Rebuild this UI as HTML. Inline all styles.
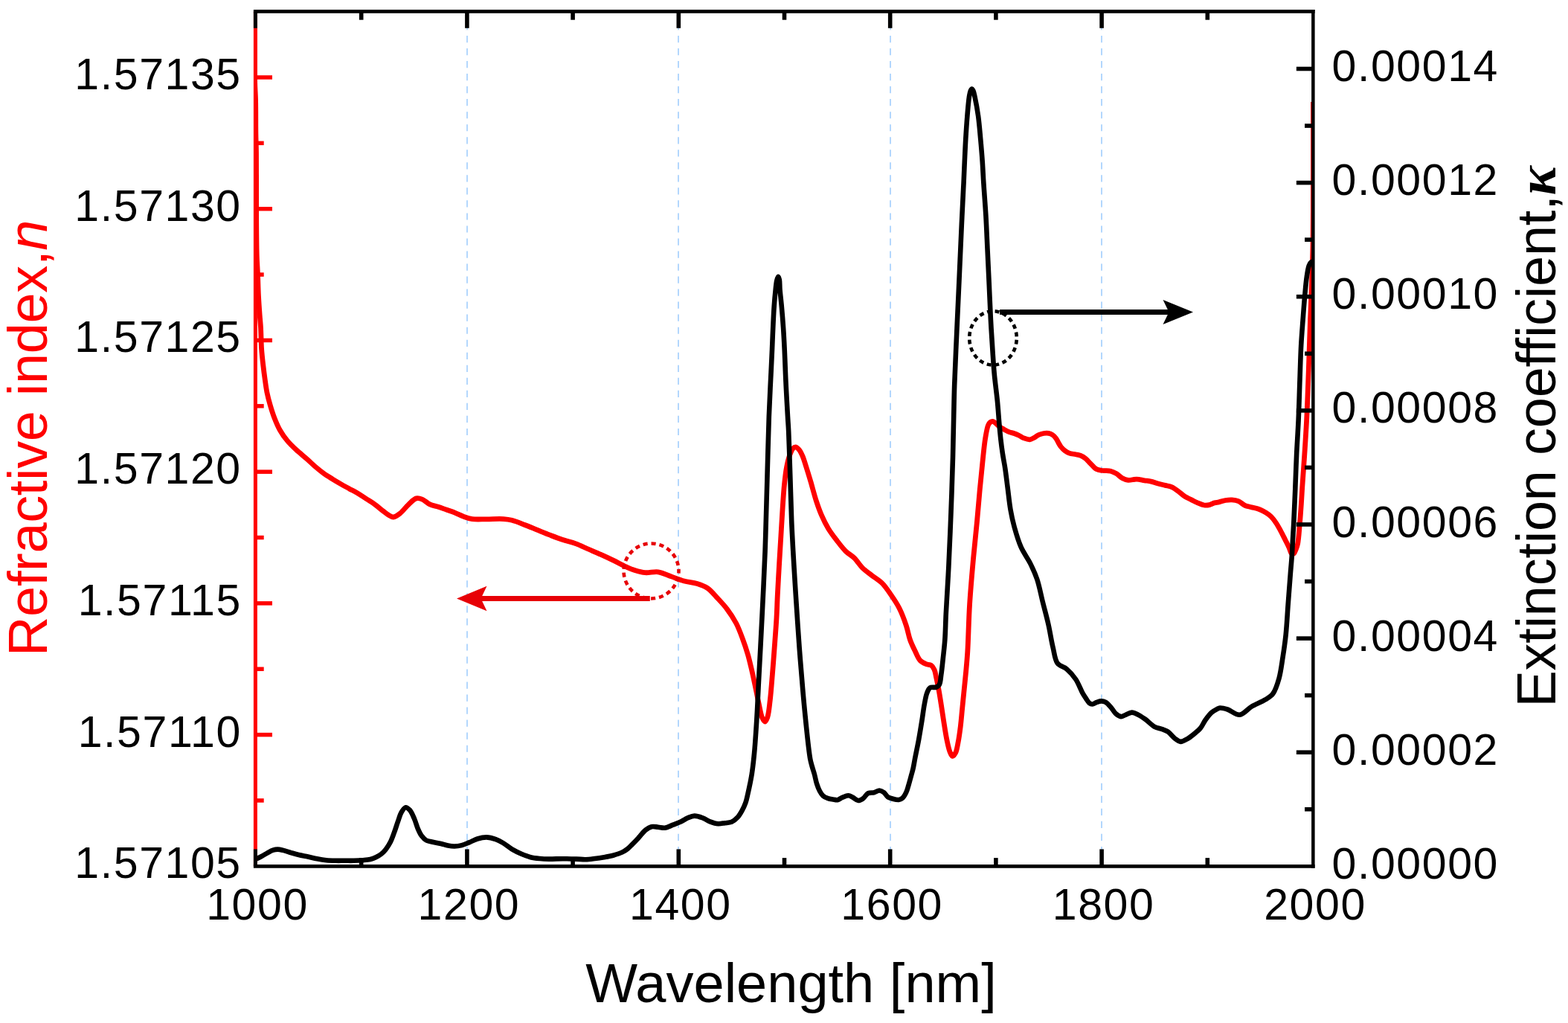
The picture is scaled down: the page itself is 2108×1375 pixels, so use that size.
<!DOCTYPE html><html><head><meta charset="utf-8"><title>Refractive index and extinction coefficient</title>
<style>html,body{margin:0;padding:0;background:#fff;}svg{display:block;}text{font-family:"Liberation Sans",Arial,sans-serif;}</style></head><body>
<svg width="2108" height="1375" viewBox="0 0 2108 1375">
<rect width="2108" height="1375" fill="#fff"/>
<g stroke="#b3d7fd" stroke-width="2" stroke-dasharray="9.2 7.83"><line x1="628.0" y1="13.90" x2="628.0" y2="1162.4"/><line x1="912.0" y1="13.90" x2="912.0" y2="1162.4"/><line x1="1197.0" y1="13.90" x2="1197.0" y2="1162.4"/><line x1="1481.0" y1="13.90" x2="1481.0" y2="1162.4"/></g>
<defs><clipPath id="pa"><rect x="343.5" y="15.4" width="1422.0" height="1149.0"/></clipPath></defs>
<g clip-path="url(#pa)">
<path d="M342.50,15.00 C342.53,46.67 342.16,88.53 342.60,110.00 C342.83,121.02 343.38,125.45 343.60,135.00 C343.90,147.81 343.70,167.19 343.90,180.00 C344.05,189.55 344.36,193.98 344.50,205.00 C344.78,226.47 344.50,274.18 344.70,300.00 C344.84,317.77 344.91,332.66 345.30,345.00 C345.57,353.63 346.06,359.04 346.40,367.00 C346.80,376.45 347.00,388.12 347.50,398.00 C347.96,407.05 348.64,416.38 349.20,424.00 C349.64,429.98 350.14,433.87 350.50,440.00 C350.99,448.24 350.98,460.01 351.60,469.00 C352.14,476.85 353.02,484.10 353.80,491.00 C354.50,497.14 355.17,502.49 356.00,508.40 C356.86,514.58 357.66,521.16 358.90,527.30 C360.11,533.25 361.61,538.92 363.30,544.70 C365.01,550.56 366.88,556.56 369.10,562.20 C371.26,567.71 373.50,573.12 376.40,578.20 C379.30,583.29 382.81,588.25 386.50,592.70 C390.09,597.03 394.00,600.68 398.20,604.60 C402.69,608.79 408.18,613.00 412.70,617.00 C416.79,620.61 420.33,624.20 424.20,627.50 C427.93,630.68 431.65,633.75 435.50,636.50 C439.22,639.16 443.08,641.44 446.90,643.80 C450.68,646.14 454.48,648.41 458.30,650.60 C462.08,652.77 465.90,654.81 469.70,656.90 C473.50,658.98 477.34,660.86 481.10,663.10 C484.94,665.39 488.70,668.03 492.50,670.50 C496.30,672.97 500.18,675.20 503.90,677.90 C507.75,680.69 511.88,684.45 515.20,687.00 C517.73,688.95 519.65,690.65 522.00,692.00 C524.22,693.28 526.47,695.12 528.90,695.00 C531.76,694.86 534.97,692.25 538.00,689.90 C541.81,686.94 545.58,681.38 549.40,677.90 C552.78,674.82 556.21,670.79 559.60,669.90 C562.28,669.19 564.88,670.06 567.60,671.10 C570.96,672.39 574.25,676.19 577.90,677.90 C581.46,679.57 585.44,680.08 589.20,681.30 C593.01,682.54 596.80,683.97 600.60,685.30 C604.40,686.63 608.23,687.80 612.00,689.30 C615.83,690.83 619.55,693.01 623.40,694.40 C627.15,695.76 630.45,696.98 634.80,697.60 C640.37,698.40 647.48,697.79 654.20,697.80 C661.47,697.81 670.64,697.16 676.90,697.60 C681.36,697.91 684.17,698.26 688.30,699.30 C693.48,700.61 699.72,703.32 705.40,705.50 C711.12,707.69 716.81,710.11 722.50,712.40 C728.17,714.68 733.81,717.01 739.50,719.20 C745.18,721.38 750.87,723.59 756.60,725.50 C762.27,727.39 768.06,728.55 773.70,730.60 C779.46,732.70 785.10,735.53 790.80,738.00 C796.50,740.47 802.22,742.84 807.90,745.40 C813.62,747.97 819.33,750.65 825.00,753.40 C830.69,756.15 836.86,759.58 842.00,761.90 C846.14,763.77 849.34,765.23 853.40,766.50 C857.80,767.88 862.52,769.27 867.50,769.70 C872.96,770.17 879.17,767.98 884.90,768.80 C890.81,769.64 896.58,772.86 902.40,774.90 C908.21,776.93 913.93,779.39 919.80,781.00 C925.57,782.58 931.88,782.80 937.30,784.50 C942.32,786.07 947.04,787.70 951.30,790.60 C955.83,793.68 959.37,798.40 963.50,802.80 C968.06,807.66 973.11,812.90 977.40,818.60 C981.87,824.53 986.20,831.10 989.70,837.80 C993.19,844.47 995.77,851.68 998.40,858.70 C1001.00,865.64 1003.36,872.67 1005.40,879.70 C1007.42,886.64 1008.91,893.34 1010.60,900.60 C1012.42,908.43 1014.24,917.25 1015.90,925.10 C1017.43,932.34 1018.70,939.26 1020.20,946.00 C1021.61,952.37 1022.74,960.26 1024.60,964.50 C1025.70,967.00 1027.11,970.04 1028.30,970.00 C1029.52,969.96 1030.82,966.77 1031.80,964.00 C1033.59,958.92 1034.27,949.54 1035.30,941.00 C1036.58,930.36 1037.51,916.92 1038.50,905.00 C1039.48,893.25 1040.31,882.06 1041.20,870.00 C1042.15,857.11 1043.30,842.38 1044.00,830.00 C1044.61,819.29 1044.77,810.84 1045.30,800.00 C1045.93,787.17 1046.81,771.65 1047.60,758.00 C1048.35,745.02 1049.13,732.69 1049.90,720.00 C1050.67,707.26 1051.39,693.75 1052.20,681.70 C1052.93,670.93 1053.53,660.55 1054.50,651.10 C1055.34,642.90 1056.21,635.03 1057.50,628.20 C1058.57,622.55 1059.72,617.38 1061.30,612.90 C1062.62,609.17 1064.13,604.96 1065.90,603.00 C1066.98,601.80 1068.16,600.84 1069.40,600.90 C1070.92,600.97 1072.85,602.84 1074.30,604.50 C1076.12,606.58 1077.47,609.64 1078.90,612.90 C1080.71,617.03 1082.12,622.27 1083.80,627.50 C1085.74,633.52 1087.72,640.02 1089.80,647.00 C1092.20,655.06 1094.70,665.17 1097.30,673.10 C1099.53,679.90 1101.52,685.65 1104.20,691.80 C1106.94,698.09 1110.06,704.53 1113.60,710.40 C1117.07,716.15 1121.24,721.54 1125.20,726.70 C1128.98,731.62 1132.71,736.69 1136.80,740.70 C1140.51,744.34 1144.78,746.37 1148.50,750.00 C1152.59,753.99 1156.01,759.91 1160.10,763.90 C1163.82,767.53 1167.71,770.03 1171.80,773.20 C1176.21,776.62 1181.51,779.55 1185.70,783.70 C1190.09,788.05 1193.64,793.48 1197.40,798.90 C1201.42,804.70 1205.60,810.79 1209.00,817.50 C1212.64,824.68 1215.81,833.34 1218.30,840.80 C1220.52,847.44 1221.39,854.06 1223.50,860.00 C1225.42,865.41 1227.87,870.35 1230.20,875.10 C1232.35,879.51 1234.06,884.61 1236.90,887.60 C1239.25,890.07 1242.50,891.47 1245.20,892.60 C1247.48,893.55 1250.09,893.07 1251.90,894.30 C1253.74,895.55 1255.02,897.78 1256.10,900.10 C1257.40,902.90 1257.74,906.40 1258.60,910.20 C1259.70,915.06 1260.93,921.06 1262.00,926.90 C1263.17,933.28 1264.22,940.17 1265.30,947.00 C1266.42,954.09 1267.40,961.21 1268.60,968.70 C1269.89,976.77 1271.23,986.31 1272.80,993.80 C1274.09,999.96 1275.35,1006.43 1277.00,1010.50 C1278.04,1013.06 1279.09,1016.24 1280.40,1016.40 C1281.62,1016.55 1283.38,1014.20 1284.50,1012.20 C1286.22,1009.14 1286.88,1003.83 1287.90,998.80 C1289.18,992.46 1290.26,984.61 1291.20,977.10 C1292.21,969.05 1292.87,960.37 1293.70,952.00 C1294.53,943.63 1295.37,935.27 1296.20,926.90 C1297.03,918.53 1297.94,910.23 1298.70,901.80 C1299.47,893.26 1300.14,886.52 1300.80,876.00 C1301.84,859.46 1302.28,833.22 1303.60,812.10 C1304.90,791.29 1306.85,769.66 1308.60,750.20 C1310.17,732.80 1312.02,716.61 1313.50,700.80 C1314.86,686.21 1315.93,672.29 1317.20,658.70 C1318.40,645.94 1319.62,633.51 1320.90,621.60 C1322.09,610.51 1323.09,598.63 1324.60,589.50 C1325.74,582.61 1326.86,575.25 1328.50,571.50 C1329.34,569.57 1330.17,568.37 1331.30,567.50 C1332.26,566.76 1333.48,566.17 1334.60,566.30 C1335.91,566.45 1337.26,567.86 1338.60,568.90 C1340.15,570.10 1341.53,571.87 1343.30,573.20 C1345.25,574.66 1347.67,575.96 1349.90,577.20 C1352.10,578.42 1354.33,579.71 1356.60,580.60 C1358.77,581.45 1361.02,581.74 1363.20,582.50 C1365.42,583.27 1367.62,584.16 1369.80,585.20 C1372.06,586.28 1374.10,587.97 1376.50,588.90 C1378.99,589.86 1382.00,591.03 1384.50,590.80 C1386.84,590.59 1389.06,588.99 1391.10,587.90 C1393.01,586.88 1394.46,585.39 1396.40,584.50 C1398.44,583.56 1400.85,582.85 1403.10,582.50 C1405.29,582.16 1407.65,582.03 1409.70,582.40 C1411.60,582.75 1413.39,583.44 1415.00,584.50 C1416.74,585.65 1418.37,587.43 1419.70,589.20 C1421.05,590.99 1421.87,593.28 1423.00,595.20 C1424.08,597.04 1424.96,598.81 1426.30,600.50 C1427.77,602.36 1429.67,604.35 1431.60,605.80 C1433.45,607.19 1435.35,608.28 1437.60,609.10 C1440.15,610.03 1443.52,610.21 1446.20,610.80 C1448.58,611.32 1450.74,611.51 1452.90,612.40 C1455.18,613.34 1457.40,614.74 1459.50,616.40 C1461.82,618.23 1463.78,620.82 1466.10,623.10 C1468.60,625.55 1471.07,629.05 1474.00,630.60 C1476.65,632.01 1479.65,632.07 1482.70,632.50 C1486.02,632.97 1490.02,632.41 1493.20,633.20 C1496.06,633.91 1498.48,635.19 1501.00,636.70 C1503.72,638.33 1506.15,641.33 1508.90,642.80 C1511.40,644.13 1513.82,645.10 1516.70,645.40 C1520.11,645.76 1524.38,644.01 1528.10,644.10 C1531.68,644.18 1535.26,645.28 1538.60,645.80 C1541.63,646.27 1544.42,646.44 1547.30,647.10 C1550.23,647.77 1552.95,648.95 1556.00,649.80 C1559.32,650.73 1563.17,651.57 1566.50,652.40 C1569.54,653.16 1572.39,653.39 1575.20,654.60 C1578.23,655.91 1581.13,658.14 1584.00,660.20 C1586.97,662.33 1589.69,665.26 1592.70,667.20 C1595.51,669.01 1598.50,670.15 1601.40,671.60 C1604.30,673.05 1607.15,674.66 1610.10,675.90 C1612.99,677.12 1616.10,678.60 1618.90,679.00 C1621.33,679.34 1623.61,679.10 1625.90,678.60 C1628.25,678.09 1630.56,676.52 1632.80,675.90 C1634.81,675.34 1636.55,675.37 1638.70,674.90 C1641.35,674.31 1644.55,673.00 1647.50,672.50 C1650.38,672.01 1653.31,671.72 1656.20,671.90 C1659.11,672.08 1662.11,672.46 1664.90,673.60 C1667.93,674.83 1670.58,677.94 1673.60,679.30 C1676.43,680.57 1679.34,680.87 1682.40,681.70 C1685.72,682.60 1689.54,683.26 1692.80,684.50 C1695.92,685.69 1698.90,687.24 1701.60,688.90 C1704.14,690.46 1706.41,691.97 1708.60,694.10 C1711.08,696.50 1713.37,699.68 1715.50,702.80 C1717.72,706.06 1719.61,709.64 1721.60,713.30 C1723.71,717.19 1725.83,721.58 1727.80,725.50 C1729.62,729.13 1731.48,732.70 1733.00,736.00 C1734.33,738.88 1734.98,743.27 1736.50,744.20 C1737.38,744.74 1738.66,744.56 1739.50,744.00 C1740.64,743.24 1741.22,740.89 1742.00,739.00 C1742.95,736.68 1743.86,734.48 1744.60,731.00 C1745.90,724.86 1746.51,713.83 1747.30,705.00 C1748.12,695.85 1748.82,685.55 1749.40,677.00 C1749.89,669.78 1750.08,665.03 1750.60,657.00 C1751.39,644.81 1752.80,626.34 1753.80,611.00 C1754.80,595.67 1755.75,581.83 1756.60,565.00 C1757.63,544.55 1758.48,519.58 1759.30,497.00 C1760.11,474.59 1760.75,450.70 1761.50,430.00 C1762.15,412.11 1762.92,396.67 1763.50,380.00 C1764.08,363.33 1764.66,349.53 1765.00,330.00 C1765.48,302.39 1765.42,262.73 1765.50,230.00 C1765.58,198.44 1765.50,168.00 1765.50,137.00" fill="none" stroke="#ff0000" stroke-width="6.8" stroke-linejoin="round" stroke-linecap="butt"/>
<path d="M343.50,1155.00 C344.00,1154.77 344.32,1154.63 345.00,1154.30 C346.52,1153.56 349.88,1151.92 352.30,1150.60 C354.78,1149.25 357.21,1147.64 359.70,1146.30 C362.15,1144.98 364.68,1143.38 367.10,1142.60 C369.21,1141.92 371.14,1141.58 373.30,1141.60 C375.66,1141.62 378.01,1142.25 380.70,1142.90 C384.05,1143.70 388.20,1145.26 391.80,1146.30 C395.19,1147.28 398.21,1148.17 401.70,1149.00 C405.56,1149.92 409.91,1150.62 414.00,1151.50 C418.11,1152.38 422.18,1153.52 426.30,1154.30 C430.41,1155.08 434.56,1155.78 438.70,1156.20 C442.80,1156.61 446.90,1156.70 451.00,1156.80 C455.10,1156.90 459.19,1156.80 463.30,1156.80 C467.42,1156.80 471.58,1156.90 475.70,1156.80 C479.81,1156.70 484.13,1156.53 488.00,1156.20 C491.48,1155.90 494.88,1155.72 497.90,1155.00 C500.59,1154.36 502.89,1153.46 505.30,1152.30 C507.83,1151.08 510.46,1149.60 512.70,1147.80 C514.96,1145.98 516.88,1143.88 518.80,1141.40 C521.01,1138.55 523.19,1135.07 525.00,1131.50 C526.93,1127.70 528.31,1123.51 529.90,1119.20 C531.62,1114.52 533.20,1109.15 534.90,1104.40 C536.50,1099.94 537.76,1094.90 539.80,1091.50 C541.39,1088.85 543.33,1085.48 545.30,1085.20 C547.06,1084.95 549.20,1086.94 550.90,1088.80 C553.31,1091.44 555.28,1096.54 557.10,1100.70 C558.99,1105.02 560.21,1110.25 562.00,1114.30 C563.52,1117.75 564.92,1120.98 566.90,1123.60 C568.69,1125.96 570.76,1128.18 573.10,1129.50 C575.32,1130.75 577.71,1130.84 580.50,1131.50 C584.07,1132.34 588.98,1133.09 592.80,1134.00 C596.19,1134.81 599.18,1136.02 602.30,1136.60 C605.24,1137.15 608.02,1137.56 611.00,1137.50 C614.17,1137.44 617.57,1136.92 620.80,1136.10 C624.14,1135.25 627.33,1133.77 630.70,1132.40 C634.32,1130.93 637.93,1128.67 641.80,1127.50 C645.72,1126.32 650.00,1125.31 654.10,1125.40 C658.23,1125.49 662.69,1126.76 666.50,1128.10 C670.04,1129.35 672.92,1130.98 676.30,1133.00 C680.28,1135.37 684.48,1139.19 688.70,1141.70 C692.72,1144.09 696.85,1146.03 701.00,1147.80 C705.05,1149.52 709.14,1151.16 713.30,1152.20 C717.37,1153.21 721.57,1153.60 725.70,1154.00 C729.80,1154.40 733.48,1154.54 738.00,1154.60 C743.54,1154.68 750.33,1154.20 756.50,1154.20 C762.67,1154.20 769.46,1154.41 775.00,1154.60 C779.52,1154.76 783.20,1155.30 787.30,1155.20 C791.43,1155.10 795.58,1154.50 799.70,1154.00 C803.81,1153.50 807.91,1152.91 812.00,1152.20 C816.11,1151.48 820.23,1150.81 824.30,1149.70 C828.46,1148.56 833.18,1147.12 836.70,1145.40 C839.58,1143.99 841.85,1142.39 844.10,1140.60 C846.27,1138.88 847.91,1136.99 850.00,1134.90 C852.46,1132.43 855.13,1129.66 857.90,1126.70 C861.06,1123.32 864.53,1118.38 867.90,1115.70 C870.55,1113.59 873.06,1111.86 875.90,1111.20 C878.70,1110.55 881.83,1111.45 884.80,1111.70 C887.80,1111.95 890.69,1113.07 893.80,1112.70 C897.33,1112.28 901.15,1110.10 904.80,1108.70 C908.45,1107.30 912.29,1105.93 915.70,1104.30 C918.89,1102.78 921.64,1100.60 924.70,1099.30 C927.61,1098.07 930.46,1096.68 933.60,1096.60 C937.06,1096.51 941.09,1098.01 944.60,1099.30 C948.09,1100.58 951.12,1102.98 954.60,1104.30 C958.09,1105.62 962.02,1106.94 965.50,1107.20 C968.62,1107.43 971.50,1106.60 974.50,1106.20 C977.50,1105.80 980.73,1105.98 983.50,1104.80 C986.39,1103.57 989.12,1101.23 991.40,1098.80 C993.78,1096.27 995.60,1093.02 997.40,1089.80 C999.29,1086.41 1001.07,1082.68 1002.40,1078.90 C1003.75,1075.06 1004.43,1071.06 1005.40,1066.90 C1006.44,1062.44 1007.49,1057.56 1008.40,1053.00 C1009.28,1048.60 1010.02,1045.17 1010.80,1040.00 C1011.94,1032.45 1013.17,1021.66 1014.10,1012.00 C1015.09,1001.70 1015.82,990.01 1016.50,980.00 C1017.10,971.16 1017.49,964.31 1018.00,955.00 C1018.65,943.23 1019.29,928.73 1020.00,915.00 C1020.75,900.44 1021.51,887.14 1022.40,870.00 C1023.58,847.14 1025.29,813.55 1026.40,790.00 C1027.27,771.39 1028.02,755.74 1028.60,740.00 C1029.12,725.93 1029.37,714.68 1029.80,700.00 C1030.32,682.02 1030.89,661.44 1031.50,640.00 C1032.21,615.25 1032.99,582.09 1033.80,560.00 C1034.38,544.38 1035.08,531.05 1035.60,520.00 C1035.97,512.19 1036.25,507.34 1036.60,500.00 C1037.03,491.01 1037.56,479.92 1038.00,470.00 C1038.43,460.25 1038.75,450.67 1039.20,441.00 C1039.65,431.33 1040.07,421.10 1040.70,412.00 C1041.26,403.88 1041.99,395.42 1042.70,389.00 C1043.21,384.35 1043.53,380.14 1044.30,377.00 C1044.82,374.87 1045.59,371.80 1046.20,371.80 C1046.75,371.80 1047.41,374.18 1047.80,376.00 C1048.46,379.10 1048.12,384.06 1048.50,389.00 C1049.01,395.59 1050.07,403.89 1050.80,412.00 C1051.62,421.10 1052.45,431.33 1053.10,441.00 C1053.75,450.66 1054.24,460.25 1054.70,470.00 C1055.17,479.91 1055.52,491.01 1055.90,500.00 C1056.21,507.34 1056.41,512.19 1056.80,520.00 C1057.35,531.05 1058.36,548.95 1059.00,560.00 C1059.45,567.81 1059.80,571.54 1060.20,580.00 C1060.90,594.64 1061.63,620.00 1062.30,640.00 C1062.97,660.00 1063.47,682.02 1064.20,700.00 C1064.80,714.68 1065.45,726.28 1066.20,740.00 C1067.00,754.56 1068.08,771.77 1068.90,785.00 C1069.55,795.44 1069.97,802.03 1070.70,813.00 C1071.74,828.66 1073.41,854.03 1074.60,870.00 C1075.46,881.59 1076.04,888.50 1077.00,900.00 C1078.30,915.58 1079.88,935.91 1081.80,955.00 C1083.89,975.78 1086.89,1007.41 1089.20,1020.00 C1090.16,1025.24 1091.01,1027.43 1092.00,1031.00 C1092.95,1034.42 1094.04,1037.49 1095.00,1041.00 C1096.05,1044.85 1096.77,1049.38 1098.00,1053.20 C1099.14,1056.74 1100.43,1060.29 1102.00,1063.20 C1103.36,1065.72 1104.68,1068.12 1106.60,1069.80 C1108.44,1071.41 1110.93,1072.41 1113.20,1073.20 C1115.37,1073.95 1117.72,1074.16 1119.90,1074.50 C1121.95,1074.82 1123.91,1075.56 1125.90,1075.20 C1128.11,1074.80 1130.15,1072.76 1132.50,1071.80 C1135.00,1070.78 1138.04,1069.19 1140.50,1069.30 C1142.66,1069.40 1144.44,1070.78 1146.50,1071.80 C1148.85,1072.96 1151.39,1075.85 1153.80,1076.00 C1156.02,1076.13 1158.34,1074.63 1160.40,1073.20 C1162.79,1071.54 1164.43,1067.51 1167.00,1066.20 C1169.35,1065.01 1172.43,1065.83 1175.00,1065.20 C1177.53,1064.58 1180.00,1062.42 1182.30,1062.50 C1184.41,1062.57 1186.49,1063.87 1188.30,1065.20 C1190.30,1066.67 1191.59,1069.80 1193.60,1071.20 C1195.40,1072.45 1197.39,1072.89 1199.60,1073.50 C1202.18,1074.21 1205.72,1075.33 1208.20,1075.00 C1210.23,1074.73 1211.95,1073.86 1213.50,1072.50 C1215.39,1070.85 1216.90,1067.92 1218.20,1065.20 C1219.63,1062.21 1220.44,1058.69 1221.50,1055.20 C1222.65,1051.42 1223.76,1047.10 1224.80,1043.30 C1225.75,1039.82 1226.67,1036.95 1227.50,1033.30 C1228.49,1028.95 1229.14,1024.36 1230.20,1018.90 C1231.60,1011.68 1233.66,1002.18 1235.20,993.80 C1236.73,985.45 1238.11,976.77 1239.40,968.70 C1240.60,961.21 1241.46,953.56 1242.70,947.00 C1243.74,941.49 1244.56,935.98 1246.10,931.90 C1247.24,928.87 1248.11,925.78 1250.20,924.40 C1252.28,923.03 1256.38,924.51 1258.60,923.60 C1260.37,922.88 1261.74,921.98 1262.80,920.20 C1264.49,917.37 1264.54,911.82 1265.30,906.80 C1266.26,900.45 1266.99,892.60 1267.80,885.10 C1268.67,877.04 1269.65,869.09 1270.30,860.00 C1271.06,849.24 1271.14,838.11 1271.80,824.70 C1272.68,806.94 1274.23,784.38 1275.30,762.80 C1276.48,739.17 1277.55,713.26 1278.50,688.50 C1279.45,663.76 1280.37,637.22 1281.00,614.30 C1281.55,594.52 1281.81,576.12 1282.20,559.00 C1282.54,544.15 1282.67,533.14 1283.20,517.40 C1283.90,496.71 1285.23,469.54 1286.30,445.60 C1287.37,421.64 1288.52,397.65 1289.60,373.70 C1290.68,349.78 1291.74,324.53 1292.80,302.00 C1293.74,281.91 1294.88,260.66 1295.60,245.00 C1296.10,234.03 1296.36,226.53 1296.80,217.00 C1297.26,207.05 1297.70,196.67 1298.30,186.50 C1298.90,176.31 1299.59,165.62 1300.40,155.90 C1301.14,147.03 1301.91,136.68 1302.90,130.50 C1303.48,126.89 1303.95,123.91 1304.80,122.00 C1305.29,120.89 1305.91,119.62 1306.50,119.60 C1307.11,119.58 1307.84,120.88 1308.40,122.00 C1309.35,123.90 1309.81,126.89 1310.60,130.50 C1311.95,136.69 1313.86,147.02 1315.10,155.90 C1316.45,165.60 1317.27,176.30 1318.20,186.50 C1319.13,196.67 1320.01,207.05 1320.70,217.00 C1321.36,226.53 1321.64,234.57 1322.30,245.00 C1323.13,258.23 1324.52,274.87 1325.40,290.00 C1326.29,305.37 1326.87,321.00 1327.60,336.50 C1328.33,352.00 1329.08,367.50 1329.80,383.00 C1330.52,398.50 1331.23,416.62 1331.90,429.50 C1332.38,438.66 1332.70,443.75 1333.30,453.00 C1334.16,466.37 1335.32,486.78 1336.70,502.00 C1337.91,515.32 1339.75,527.55 1340.90,539.40 C1341.94,550.10 1342.59,560.91 1343.40,570.00 C1344.05,577.32 1344.55,583.19 1345.30,589.80 C1346.05,596.46 1346.90,603.15 1347.90,609.80 C1348.90,616.45 1350.24,622.66 1351.30,629.70 C1352.49,637.62 1353.46,646.21 1354.60,655.00 C1355.85,664.57 1356.87,675.69 1358.50,685.00 C1359.94,693.24 1361.39,700.12 1363.60,708.10 C1366.05,716.95 1369.03,727.25 1372.80,735.70 C1376.27,743.47 1381.40,749.86 1385.00,757.10 C1388.50,764.14 1391.54,770.62 1394.20,778.50 C1397.29,787.66 1399.25,798.83 1401.80,809.00 C1404.35,819.19 1407.20,829.37 1409.50,839.60 C1411.79,849.77 1413.36,860.95 1415.60,870.20 C1417.49,878.01 1417.98,886.68 1421.70,891.60 C1424.70,895.57 1430.13,895.94 1434.00,899.20 C1438.36,902.88 1442.71,907.82 1446.20,913.00 C1449.87,918.46 1452.66,926.59 1455.30,931.30 C1457.04,934.40 1458.43,936.46 1460.00,938.80 C1461.43,940.94 1462.67,943.52 1464.30,944.80 C1465.58,945.81 1466.98,946.52 1468.50,946.50 C1470.33,946.48 1472.47,944.59 1474.50,943.90 C1476.47,943.23 1478.50,942.40 1480.50,942.40 C1482.50,942.40 1484.53,942.78 1486.50,943.90 C1489.12,945.38 1491.88,948.95 1494.20,951.60 C1496.39,954.10 1497.83,957.34 1500.10,959.30 C1502.15,961.06 1504.75,962.92 1507.00,963.10 C1509.01,963.26 1510.76,961.81 1512.90,961.00 C1515.51,960.02 1518.63,957.65 1521.50,957.60 C1524.33,957.55 1527.17,959.23 1530.00,960.60 C1533.14,962.12 1536.10,964.15 1539.40,966.50 C1543.42,969.36 1547.96,974.49 1552.20,976.80 C1555.65,978.68 1559.34,978.99 1562.50,980.20 C1565.28,981.27 1567.66,981.89 1570.20,983.60 C1573.35,985.72 1576.39,990.29 1579.50,992.60 C1582.06,994.51 1584.52,996.74 1587.20,996.90 C1589.95,997.07 1592.96,994.97 1595.80,993.40 C1598.97,991.64 1602.21,989.02 1605.20,986.60 C1608.17,984.19 1611.21,981.91 1613.70,978.90 C1616.35,975.70 1617.95,971.33 1620.50,967.80 C1623.08,964.23 1626.20,960.13 1629.10,957.60 C1631.35,955.64 1633.85,954.37 1635.90,953.30 C1637.46,952.49 1638.43,951.68 1640.20,951.50 C1642.83,951.24 1646.60,952.33 1650.30,953.50 C1655.16,955.03 1661.30,961.19 1666.60,960.70 C1672.18,960.18 1677.19,952.88 1682.90,949.50 C1688.71,946.06 1696.12,943.54 1701.20,940.30 C1705.25,937.71 1708.57,936.00 1711.40,932.20 C1715.07,927.26 1717.37,919.28 1719.50,911.80 C1721.95,903.20 1723.08,892.98 1724.60,883.30 C1726.16,873.32 1727.56,863.72 1728.70,852.80 C1730.01,840.23 1730.68,825.67 1731.70,812.10 C1732.72,798.53 1733.86,783.24 1734.80,771.40 C1735.52,762.23 1736.26,754.93 1736.80,747.00 C1737.31,739.48 1737.59,732.37 1738.00,725.00 C1738.42,717.54 1738.85,711.31 1739.30,702.50 C1739.94,689.98 1740.67,672.21 1741.30,657.00 C1741.94,641.71 1742.38,626.33 1743.10,611.00 C1743.82,595.66 1744.89,581.02 1745.60,565.00 C1746.38,547.49 1746.87,527.51 1747.50,510.00 C1748.07,493.98 1748.44,478.17 1749.20,464.00 C1749.86,451.81 1750.76,441.25 1751.60,430.00 C1752.43,418.92 1753.26,407.23 1754.20,397.00 C1755.01,388.08 1755.70,379.25 1756.80,372.00 C1757.66,366.34 1758.39,360.50 1759.80,357.00 C1760.65,354.89 1761.63,353.09 1762.80,352.30 C1763.62,351.75 1764.60,351.97 1765.50,351.80" fill="none" stroke="#000" stroke-width="6.6" stroke-linejoin="round" stroke-linecap="butt"/>
</g>
<line x1="343.40" y1="15.40" x2="343.40" y2="1164.40" stroke="#ff0000" stroke-width="5.00"/>
<g stroke="#ff0000" stroke-width="5.5"><line x1="343.40" y1="1075.94" x2="354.70" y2="1075.94"/><line x1="343.40" y1="987.58" x2="366.00" y2="987.58"/><line x1="343.40" y1="899.22" x2="354.70" y2="899.22"/><line x1="343.40" y1="810.87" x2="366.00" y2="810.87"/><line x1="343.40" y1="722.51" x2="354.70" y2="722.51"/><line x1="343.40" y1="634.15" x2="366.00" y2="634.15"/><line x1="343.40" y1="545.79" x2="354.70" y2="545.79"/><line x1="343.40" y1="457.43" x2="366.00" y2="457.43"/><line x1="343.40" y1="369.08" x2="354.70" y2="369.08"/><line x1="343.40" y1="280.72" x2="366.00" y2="280.72"/><line x1="343.40" y1="192.36" x2="354.70" y2="192.36"/><line x1="343.40" y1="104.00" x2="366.00" y2="104.00"/></g>
<g stroke="#000"><line x1="340.90" y1="15.40" x2="1767.60" y2="15.40" stroke-width="4.80"/><line x1="340.90" y1="1164.40" x2="1767.60" y2="1164.40" stroke-width="4.80"/><line x1="1765.35" y1="13.00" x2="1765.35" y2="1166.80" stroke-width="4.50"/></g>
<g stroke="#000" stroke-width="5.6"><line x1="343.40" y1="1164.40" x2="343.40" y2="1141.40" stroke-width="5"/><line x1="343.40" y1="15.40" x2="343.40" y2="37.80" stroke-width="5"/><line x1="485.70" y1="1164.40" x2="485.70" y2="1153.10"/><line x1="485.70" y1="15.40" x2="485.70" y2="26.70"/><line x1="627.90" y1="1164.40" x2="627.90" y2="1141.40"/><line x1="627.90" y1="15.40" x2="627.90" y2="37.80"/><line x1="770.10" y1="1164.40" x2="770.10" y2="1153.10"/><line x1="770.10" y1="15.40" x2="770.10" y2="26.70"/><line x1="912.30" y1="1164.40" x2="912.30" y2="1141.40"/><line x1="912.30" y1="15.40" x2="912.30" y2="37.80"/><line x1="1054.50" y1="1164.40" x2="1054.50" y2="1153.10"/><line x1="1054.50" y1="15.40" x2="1054.50" y2="26.70"/><line x1="1196.70" y1="1164.40" x2="1196.70" y2="1141.40"/><line x1="1196.70" y1="15.40" x2="1196.70" y2="37.80"/><line x1="1338.90" y1="1164.40" x2="1338.90" y2="1153.10"/><line x1="1338.90" y1="15.40" x2="1338.90" y2="26.70"/><line x1="1481.10" y1="1164.40" x2="1481.10" y2="1141.40"/><line x1="1481.10" y1="15.40" x2="1481.10" y2="37.80"/><line x1="1623.30" y1="1164.40" x2="1623.30" y2="1153.10"/><line x1="1623.30" y1="15.40" x2="1623.30" y2="26.70"/><line x1="1765.35" y1="1087.74" x2="1754.05" y2="1087.74"/><line x1="1765.35" y1="1011.19" x2="1742.85" y2="1011.19"/><line x1="1765.35" y1="934.63" x2="1754.05" y2="934.63"/><line x1="1765.35" y1="858.07" x2="1742.85" y2="858.07"/><line x1="1765.35" y1="781.51" x2="1754.05" y2="781.51"/><line x1="1765.35" y1="704.96" x2="1742.85" y2="704.96"/><line x1="1765.35" y1="628.40" x2="1754.05" y2="628.40"/><line x1="1765.35" y1="551.84" x2="1742.85" y2="551.84"/><line x1="1765.35" y1="475.29" x2="1754.05" y2="475.29"/><line x1="1765.35" y1="398.73" x2="1742.85" y2="398.73"/><line x1="1765.35" y1="322.17" x2="1754.05" y2="322.17"/><line x1="1765.35" y1="245.61" x2="1742.85" y2="245.61"/><line x1="1765.35" y1="169.06" x2="1754.05" y2="169.06"/><line x1="1765.35" y1="92.50" x2="1742.85" y2="92.50"/></g>
<circle cx="875.5" cy="767.5" r="37" fill="none" stroke="#e70006" stroke-width="4.6" stroke-dasharray="6.1 4.97" stroke-dashoffset="3"/>
<line x1="873.8" y1="804.5" x2="645" y2="804.5" stroke="#e70006" stroke-width="7.2"/>
<polygon points="614,804.5 654.5,787.8 646.5,804.5 654.5,821.2" fill="#e70006"/>
<ellipse cx="1335" cy="454.4" rx="31.8" ry="36.2" fill="none" stroke="#000" stroke-width="4.6" stroke-dasharray="5.9 4.79" stroke-dashoffset="-2.4"/>
<line x1="1344" y1="419.5" x2="1572" y2="419.5" stroke="#000" stroke-width="7"/>
<polygon points="1604,419.5 1563.5,402.9 1571.5,419.5 1563.5,436.1" fill="#000"/>
<g font-size="59.0" letter-spacing="1.60" fill="#000"><text x="324.8" y="1180.3" text-anchor="end">1.57105</text><text x="324.8" y="1003.6" text-anchor="end">1.57110</text><text x="324.8" y="826.9" text-anchor="end">1.57115</text><text x="324.8" y="650.1" text-anchor="end">1.57120</text><text x="324.8" y="473.4" text-anchor="end">1.57125</text><text x="324.8" y="296.7" text-anchor="end">1.57130</text><text x="324.8" y="120.0" text-anchor="end">1.57135</text><text x="1790.5" y="1180.8">0.00000</text><text x="1790.5" y="1027.7">0.00002</text><text x="1790.5" y="874.6">0.00004</text><text x="1790.5" y="721.5">0.00006</text><text x="1790.5" y="568.3">0.00008</text><text x="1790.5" y="415.2">0.00010</text><text x="1790.5" y="262.1">0.00012</text><text x="1790.5" y="109.0">0.00014</text><text x="346.0" y="1235.5" text-anchor="middle">1000</text><text x="630.4" y="1235.5" text-anchor="middle">1200</text><text x="914.8" y="1235.5" text-anchor="middle">1400</text><text x="1199.2" y="1235.5" text-anchor="middle">1600</text><text x="1483.6" y="1235.5" text-anchor="middle">1800</text><text x="1768.0" y="1235.5" text-anchor="middle">2000</text></g>
<text x="1063.5" y="1347" font-size="74" text-anchor="middle" fill="#000">Wavelength [nm]</text>
<text transform="translate(63,882) rotate(-90)" font-size="74" letter-spacing="-0.35" fill="#ff0000">Refractive index,<tspan font-style="italic">n</tspan></text>
<text transform="translate(2091,950.6) rotate(-90)" font-size="74" letter-spacing="-0.25" fill="#000">Extinction coefficient,<tspan font-family="Liberation Serif, serif" font-style="italic" font-weight="bold">κ</tspan></text>
</svg></body></html>
